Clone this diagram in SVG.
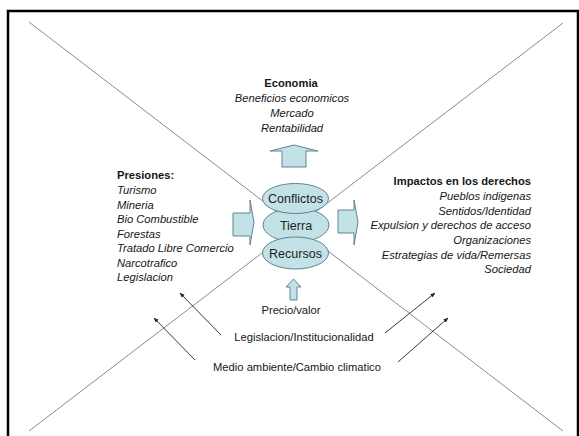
<svg xmlns="http://www.w3.org/2000/svg" width="579" height="436" viewBox="0 0 579 436">
<defs>
<style>
.t{font-family:"Liberation Sans",Arial,sans-serif;font-size:11.2px;fill:#161616}
.b{font-weight:bold}
.i{font-style:italic}
.e{font-family:"Liberation Sans",Arial,sans-serif;font-size:12.5px;fill:#222;text-anchor:middle}
.shape{fill:#c2e2e8;stroke:#5e8491;stroke-width:1}
.diag{stroke:#8a8a8a;stroke-width:1;fill:none}
.arr{stroke:#222;stroke-width:0.9;fill:none;marker-end:url(#ah)}
</style>
<marker id="ah" viewBox="0 0 10 10" refX="9" refY="5" markerWidth="5" markerHeight="5" orient="auto" markerUnits="userSpaceOnUse">
<path d="M0,1 L10,5 L0,9 Z" fill="#222"/>
</marker>
</defs>
<rect width="579" height="436" fill="#fff"/>
<path d="M8,436 V11 H578 V436" fill="none" stroke="#000" stroke-width="2.5"/>
<g id="connectors">
<line class="diag" x1="29" y1="22" x2="563" y2="431"/>
<line class="diag" x1="563" y1="23" x2="29" y2="431"/>
<line class="arr" x1="221" y1="335" x2="180" y2="293"/>
<line class="arr" x1="195" y1="360" x2="154" y2="318"/>
<line class="arr" x1="385" y1="333" x2="435" y2="293"/>
<line class="arr" x1="398" y1="362" x2="448" y2="318"/>
<path id="arrow-up" class="shape" d="M282,167 V151 H270 L294,145 L318,151 H306 V167 Z"/>
<path id="arrow-left" class="shape" d="M233,213 H250 V200 L254,222.5 L250,245 V236 H233 Z"/>
<path id="arrow-right" class="shape" d="M338,210 H354 V200 L358,222 L354,245 V233 H338 Z"/>
<path id="arrow-bottom" class="shape" d="M290,300 V287 H286 L293.5,279 L301,287 H297 V300 Z"/>
</g>
<g id="tierra">
<ellipse class="shape" cx="296" cy="225" rx="33" ry="17"/>
<text class="e" x="296" y="229.5">Tierra</text>
</g>
<g id="conflictos">
<ellipse class="shape" cx="295.5" cy="198.5" rx="33" ry="15"/>
<text class="e" x="295.5" y="203">Conflictos</text>
</g>
<g id="recursos">
<ellipse class="shape" cx="295.5" cy="253" rx="33" ry="16"/>
<text class="e" x="295.5" y="257.5">Recursos</text>
</g>
<g id="economia" class="t" text-anchor="middle">
<text class="t b" x="291" y="87">Economia</text>
<text class="t i" x="292" y="102">Beneficios economicos</text>
<text class="t i" x="292" y="117">Mercado</text>
<text class="t i" x="292" y="132">Rentabilidad</text>
</g>
<g id="presiones">
<text class="t b" x="117" y="179">Presiones:</text>
<text class="t i" x="117" y="194">Turismo</text>
<text class="t i" x="117" y="208.5">Mineria</text>
<text class="t i" x="117" y="223">Bio Combustible</text>
<text class="t i" x="117" y="237.5">Forestas</text>
<text class="t i" x="117" y="252">Tratado Libre Comercio</text>
<text class="t i" x="117" y="266.5">Narcotrafico</text>
<text class="t i" x="117" y="281">Legislacion</text>
</g>
<g id="impactos" text-anchor="end">
<text class="t b" x="531" y="185">Impactos en los derechos</text>
<text class="t i" x="531" y="200">Pueblos indigenas</text>
<text class="t i" x="531" y="214.5">Sentidos/Identidad</text>
<text class="t i" x="531" y="229">Expulsion y derechos de acceso</text>
<text class="t i" x="531" y="244">Organizaciones</text>
<text class="t i" x="531" y="258.5">Estrategias de vida/Remersas</text>
<text class="t i" x="531" y="273">Sociedad</text>
</g>
<g id="precio" text-anchor="middle">
<text class="t" x="291" y="314">Precio/valor</text>
</g>
<g id="legislacion" text-anchor="middle">
<text class="t" x="304" y="341">Legislacion/Institucionalidad</text>
</g>
<g id="medio" text-anchor="middle">
<text class="t" x="297" y="371">Medio ambiente/Cambio climatico</text>
</g>
</svg>
